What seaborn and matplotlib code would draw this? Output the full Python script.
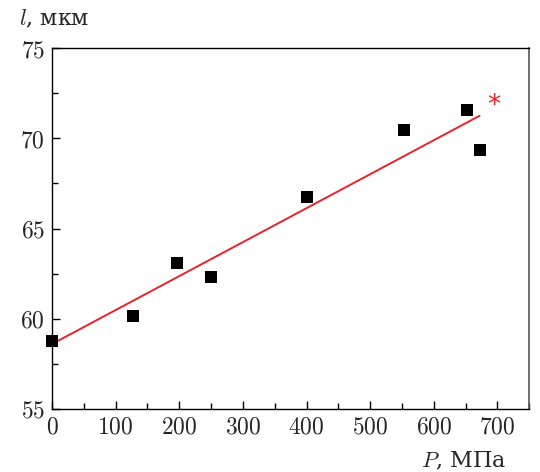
import matplotlib
matplotlib.use("Agg")
import matplotlib.pyplot as plt
import seaborn as sns
import pandas as pd
from matplotlib.ticker import MultipleLocator

pressure = [0, 128, 197, 250, 400, 554, 652, 672]
length = [58.77, 60.16, 63.07, 62.29, 66.77, 70.47, 71.55, 69.38]
fit_x = [0, 672]
fit_y = [58.6, 71.25]
x_ticks = [0, 100, 200, 300, 400, 500, 600, 700]
y_ticks = [55, 60, 65, 70, 75]

sns.set_theme(style="white")
plt.rcParams['font.family'] = ['DejaVu Serif']
plt.rcParams['mathtext.fontset'] = 'cm'

fig = plt.figure(figsize=(5.4, 4.72), dpi=100)
ax = fig.add_axes([0.0963, 0.1335, 0.8837, 0.7645])

df = pd.DataFrame({"P": pressure, "l": length})
fit = pd.DataFrame({"P": fit_x, "l": fit_y})
sns.lineplot(data=fit, x="P", y="l", color="#e8232a", linewidth=1.4, ax=ax)
sns.scatterplot(data=df, x="P", y="l", marker="s", s=80, color="black",
                edgecolor="black", linewidth=0, ax=ax, zorder=3, clip_on=False)
ax.text(694, 71.8, "*", color="#e8232a", fontsize=19, ha="center", va="center",
        family="DejaVu Sans")

ax.set_xlim(0, 750)
ax.set_ylim(55, 75)
ax.set_xticks(x_ticks)
ax.set_yticks(y_ticks)
ax.set_xticklabels([r"$\mathrm{%d}$" % v for v in x_ticks])
ax.set_yticklabels([r"$\mathrm{%d}$" % v for v in y_ticks])
ax.xaxis.set_minor_locator(MultipleLocator(50))
ax.yaxis.set_minor_locator(MultipleLocator(2.5))
ax.tick_params(which="both", direction="in", top=False, right=False,
               bottom=True, left=True, color="black", width=1.0)
ax.tick_params(which="major", length=6, labelsize=17, pad=5)
ax.tick_params(which="minor", length=4)
ax.set_xlabel("")
ax.set_ylabel("")
for s in ["left", "bottom", "top"]:
    ax.spines[s].set_color("black")
    ax.spines[s].set_linewidth(1.0)
ax.spines["right"].set_color("#555555")
ax.spines["right"].set_linewidth(1.2)

fig.text(0.036, 0.960, r"$l$, мкм", fontsize=16, ha="left", va="center")
fig.text(0.937, 0.022, r"$P$, МПа", fontsize=16, ha="right", va="center")

fig.savefig("out.png", dpi=100)
